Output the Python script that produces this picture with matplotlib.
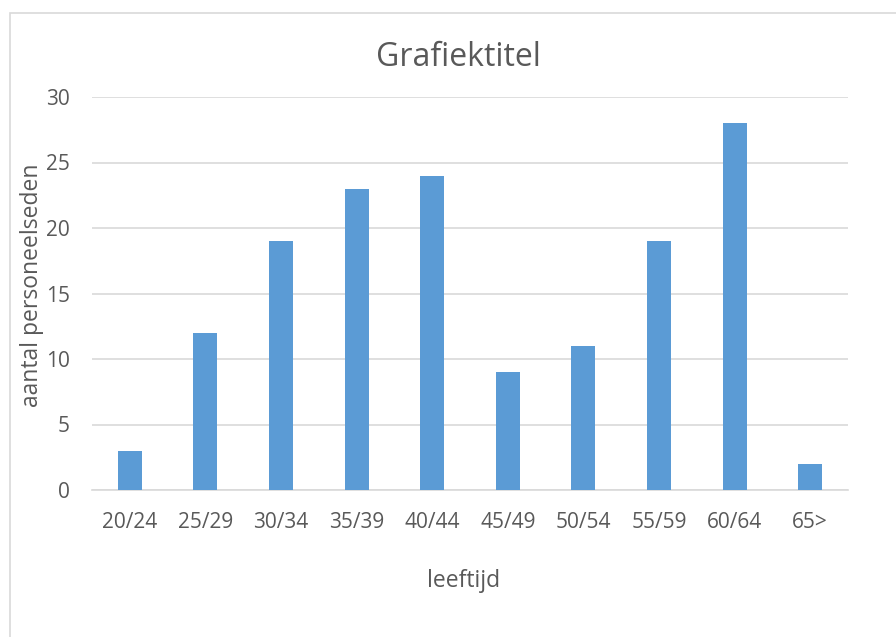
import matplotlib.pyplot as plt
import matplotlib.patches as patches
import numpy as np

categories = ['20/24', '25/29', '30/34', '35/39', '40/44', '45/49', '50/54', '55/59', '60/64', '65>']
values = [3, 12, 19, 23, 24, 9, 11, 19, 28, 2]
y_ticks = [0, 5, 10, 15, 20, 25, 30]

plt.rcParams['font.family'] = ['Open Sans', 'DejaVu Sans']
text_color = '#595959'
grid_color = '#D9D9D9'

fig = plt.figure(figsize=(8.96, 6.37), dpi=100)
W, H = 896, 637

# chart border (only left and top edges are visible in the reference)
fig.add_artist(patches.Rectangle((10 / W, -0.05), 1.1, 1 - 13 / H + 0.05,
                                 transform=fig.transFigure, fill=False,
                                 edgecolor='#D9D9D9', linewidth=1.2))

ax = fig.add_axes([92 / W, 1 - 490 / H, (848 - 92) / W, (490 - 97) / H])
x = np.arange(len(categories))
ax.bar(x, values, width=0.32, color='#5B9BD5', zorder=3)

ax.set_xlim(-0.5, len(categories) - 0.5)
ax.set_ylim(0, 30)
ax.set_yticks(y_ticks)
ax.set_xticks(x)
ax.set_xticklabels(categories)
ax.yaxis.grid(True, color=grid_color, linewidth=1.2, zorder=0)
ax.set_axisbelow(True)
for side in ['top', 'right', 'left']:
    ax.spines[side].set_visible(False)
ax.spines['bottom'].set_color(grid_color)
ax.spines['bottom'].set_linewidth(1.2)
ax.tick_params(axis='both', length=0, labelsize=15, colors=text_color)
ax.tick_params(axis='x', pad=16)
ax.tick_params(axis='y', pad=16)

# title is centred on the whole chart area, as in Excel
fig.text(458 / W, 1 - 58 / H, 'Grafiektitel', fontsize=23, color=text_color,
         ha='center', va='center')
ax.set_xlabel('leeftijd', fontsize=16.5, color=text_color)
ax.xaxis.set_label_coords(0.491, -0.201)
ax.set_ylabel('aantal personeelseden', fontsize=16.5, color=text_color)
ax.yaxis.set_label_coords(-0.064, 0.52)

fig.savefig('out.png', dpi=100)
